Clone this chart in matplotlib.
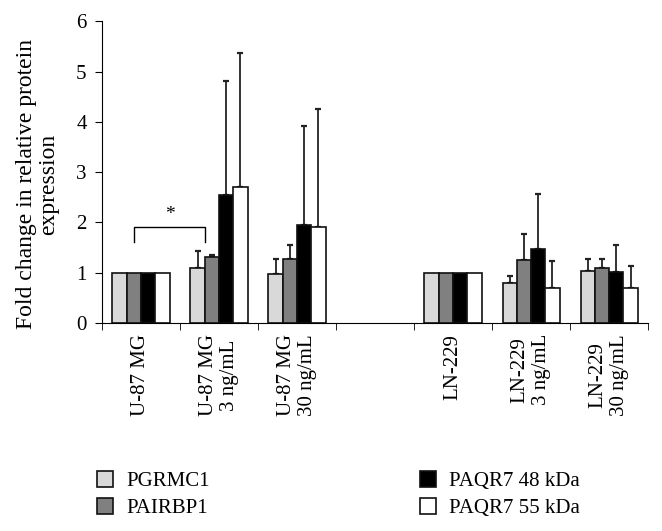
import matplotlib
matplotlib.use('Agg')
import matplotlib.pyplot as plt
import numpy as np

plt.rcParams['font.family'] = ['Liberation Serif', 'DejaVu Serif']

groups = ['U-87 MG', 'U-87 MG\n3 ng/mL', 'U-87 MG\n30 ng/mL', '',
          'LN-229', 'LN-229\n3 ng/mL', 'LN-229\n30 ng/mL']
series = ['PGRMC1', 'PAIRBP1', 'PAQR7 48 kDa', 'PAQR7 55 kDa']
colors = ['#d9d9d9', '#808080', '#000000', '#ffffff']

# mean values per series (nan = empty slot)
pgrmc1 = [1.0, 1.10, 0.97, np.nan, 1.0, 0.79, 1.03]
pairbp1 = [1.0, 1.30, 1.27, np.nan, 1.0, 1.26, 1.10]
paqr7_48 = [1.0, 2.55, 1.95, np.nan, 1.0, 1.47, 1.02]
paqr7_55 = [1.0, 2.70, 1.90, np.nan, 1.0, 0.69, 0.69]

# upper error (SD) per series
pgrmc1_err = [0, 0.32, 0.30, 0, 0, 0.15, 0.24]
pairbp1_err = [0, 0.05, 0.28, 0, 0, 0.51, 0.17]
paqr7_48_err = [0, 2.27, 1.97, 0, 0, 1.10, 0.53]
paqr7_55_err = [0, 2.66, 2.35, 0, 0, 0.55, 0.45]

means = [pgrmc1, pairbp1, paqr7_48, paqr7_55]
errs = [pgrmc1_err, pairbp1_err, paqr7_48_err, paqr7_55_err]

fig = plt.figure(figsize=(6.62, 5.31), dpi=100)
ax = fig.add_axes([0.154, 0.392, 0.825, 0.568])

x = np.arange(len(groups))
w = 0.183
handles = []
for i in range(4):
    m = np.array(means[i], dtype=float)
    e = np.array(errs[i], dtype=float)
    pos = x + (i - 1.5) * w
    b = ax.bar(pos, m, w, color=colors[i], edgecolor='#111111', linewidth=1.2,
               label=series[i], zorder=2)
    handles.append(b)
    has = e > 0
    ax.errorbar(pos[has], m[has], yerr=[np.zeros(has.sum()), e[has]],
                fmt='none', ecolor='#222222', elinewidth=1.3, capsize=2.5,
                capthick=1.6, zorder=1)

# significance bracket
x1, x2, ylo, yhi = 0 - 0.5 * w, 1 - w + 0.01, 1.6, 1.9
ax.plot([x1, x1, x2, x2], [ylo, yhi, yhi, ylo], color='black', lw=1.0)
ax.text((x1 + x2) / 2, 1.98, '*', ha='center', va='bottom', fontsize=14)

ax.set_xlim(-0.5, 6.5)
ax.set_ylim(0, 6)
ax.set_yticks(range(7))
ax.spines['top'].set_visible(False)
ax.spines['right'].set_visible(False)
ax.tick_params(axis='y', direction='out', length=5, labelsize=15, pad=6)
ax.set_xticks(x)
ax.set_xticklabels(groups, rotation=90, fontsize=15, linespacing=1.2)
ax.set_xticks(np.arange(-0.5, 7.0, 1.0), minor=True)
ax.tick_params(axis='x', which='major', length=0, pad=8)
ax.tick_params(axis='x', which='minor', direction='out', length=5)
ax.set_ylabel('Fold change in relative protein\nexpression', fontsize=17,
              linespacing=1.05)
ax.yaxis.set_label_coords(-0.079, 0.46)

fig.legend(handles=handles, labels=series, ncol=2, loc='upper left',
           bbox_to_anchor=(97 / 662, 1 - 471 / 531), frameon=False,
           fontsize=15, borderpad=0, borderaxespad=0,
           handlelength=0.78, handleheight=0.78, handletextpad=0.62,
           columnspacing=10.1, labelspacing=0.33)

fig.savefig('out.png', dpi=100)
